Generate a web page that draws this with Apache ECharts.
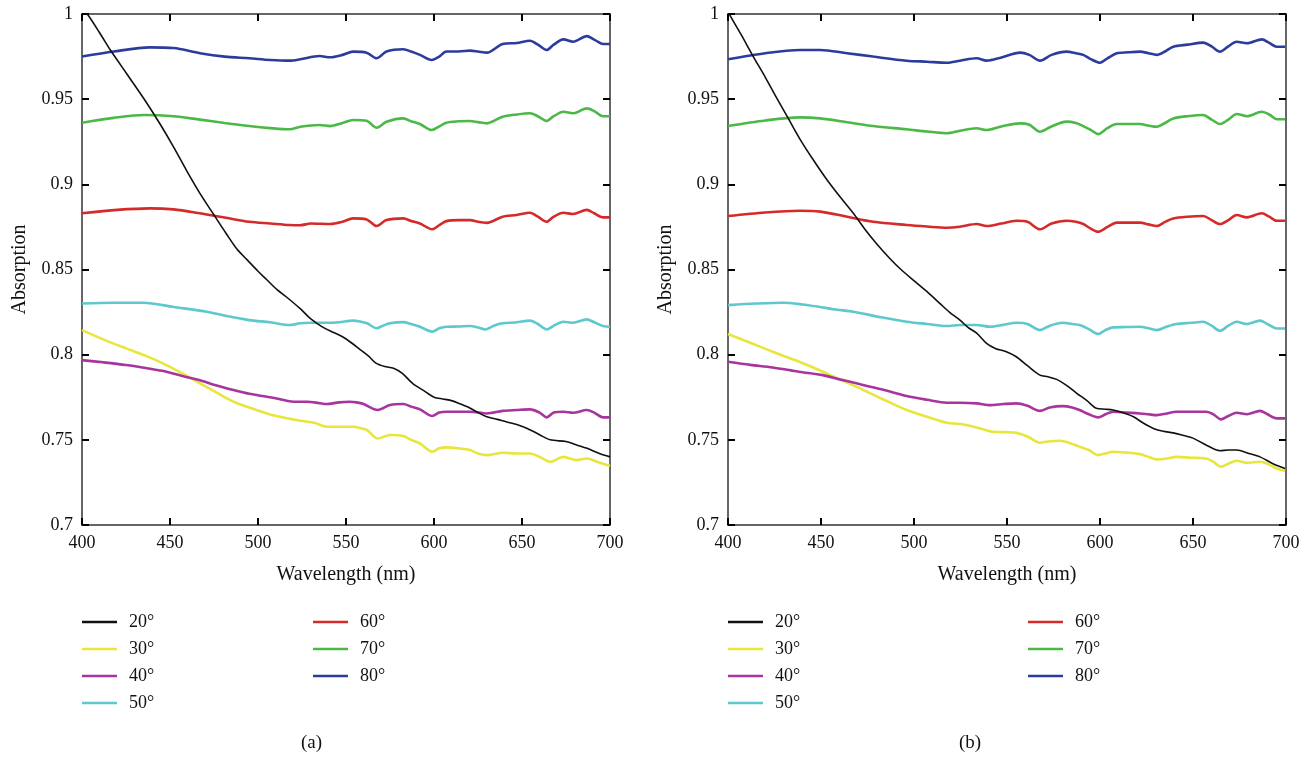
<!DOCTYPE html>
<html>
<head>
    <meta charset="utf-8">
    <title>Absorption vs wavelength</title>
    <script src="https://cdn.jsdelivr.net/npm/echarts@6/dist/echarts.min.js"></script>
</head>
<body style="margin:0;background:#fff;">
    <div id="main" style="width: 1316px;height:757px;"></div>
    <script type="text/javascript">
        // angles shown in the legend
        var angleNames = ['20°', '30°', '40°', '50°', '60°', '70°', '80°'];
        var angleColors = ['#111111', '#e8e63c', '#a8349e', '#5ec8cc', '#d42a2a', '#4cb848', '#2c3c9c'];
        var xTicks = [400, 450, 500, 550, 600, 650, 700];
        var yTicks = [0.7, 0.75, 0.8, 0.85, 0.9, 0.95, 1];

        // (a) wavelength (nm), absorption
        var a20 = [[400,1.003],[403,1.0],[410,0.989],[416,0.979],[420,0.973],[426,0.964],[435,0.9505],[444,0.936],[452,0.922],[460,0.907],[467,0.8947],[475,0.882],[482,0.871],[488,0.862],[494,0.8555],[500,0.849],[505,0.844],[511,0.838],[516,0.834],[524,0.827],[530,0.821],[537,0.816],[543,0.813],[548,0.8105],[553,0.807],[558,0.803],[563,0.799],[567,0.795],[572,0.793],[577,0.792],[582,0.789],[588,0.783],[594,0.779],[600,0.775],[605,0.774],[609,0.7733],[614,0.7715],[619,0.7694],[625,0.766],[630,0.7635],[636,0.762],[641,0.7606],[647,0.759],[653,0.7567],[660,0.753],[666,0.750],[675,0.749],[681,0.747],[687,0.745],[694,0.742],[700,0.740]];
        var a30 = [[400,0.8144],[412,0.809],[425,0.8037],[437,0.799],[448,0.7939],[457,0.789],[467,0.7832],[476,0.778],[486,0.7724],[495,0.769],[505,0.7655],[515,0.763],[524,0.7612],[532,0.760],[539,0.7577],[547,0.7577],[554,0.7577],[558,0.757],[562,0.7557],[568,0.7508],[575,0.7528],[582.6,0.7522],[587,0.750],[592,0.7479],[599,0.743],[603,0.745],[607,0.7456],[614,0.745],[620.5,0.744],[625,0.742],[630,0.741],[639,0.7424],[647,0.742],[654.5,0.742],[660,0.740],[666,0.7371],[673.5,0.740],[681,0.7381],[686.8,0.739],[693,0.737],[700,0.7346]];
        var a40 = [[400,0.7968],[412,0.7955],[425,0.7939],[437,0.792],[448,0.790],[457,0.7875],[467,0.785],[476,0.782],[486,0.7792],[495,0.777],[505,0.7753],[512,0.774],[520,0.7724],[528,0.7724],[535,0.7715],[539,0.771],[546,0.772],[552,0.7724],[556,0.772],[560,0.771],[568,0.7675],[575,0.7704],[582.6,0.771],[587,0.7695],[592,0.7679],[599,0.764],[603,0.766],[607,0.7665],[614,0.7665],[620.5,0.7665],[630,0.7655],[639,0.767],[647,0.7675],[654.5,0.7679],[660,0.766],[664,0.7632],[668,0.766],[673.5,0.7665],[679,0.7659],[686.8,0.7675],[691,0.766],[696,0.7632],[700,0.7632]];
        var a50 = [[400,0.830],[418,0.8305],[435,0.8305],[452,0.828],[471,0.8252],[483,0.8225],[495,0.8203],[507,0.819],[518,0.8174],[524,0.8184],[530,0.8187],[539,0.8187],[546,0.819],[554,0.820],[558,0.8195],[562,0.8184],[567.4,0.8155],[571,0.817],[575,0.8184],[582.6,0.8191],[587,0.818],[592,0.8164],[599,0.8135],[603,0.8155],[607,0.8164],[614,0.8165],[620.5,0.8168],[625,0.816],[629,0.8148],[634,0.817],[639,0.8184],[647,0.819],[654.5,0.820],[659,0.818],[664,0.8148],[668,0.817],[673.5,0.8193],[679,0.8187],[686.8,0.8207],[691,0.819],[696,0.8168],[700,0.8164]];
        var a60 = [[400,0.883],[420,0.885],[438.6,0.8859],[452,0.8853],[467,0.883],[481,0.8805],[495,0.878],[507,0.877],[518,0.8761],[524,0.876],[530,0.877],[541,0.8767],[548,0.878],[554,0.880],[561.7,0.8794],[567.4,0.8755],[573,0.879],[582.6,0.880],[587,0.8785],[592,0.877],[599,0.8736],[603,0.876],[607,0.8784],[614,0.879],[620.5,0.879],[625,0.878],[630,0.8774],[639,0.881],[647,0.882],[654.5,0.8833],[659,0.881],[664,0.878],[668,0.881],[673.5,0.8833],[679,0.8826],[686.8,0.885],[691,0.883],[696,0.8806],[700,0.8806]];
        var a70 = [[400,0.9362],[418,0.939],[435,0.9407],[452,0.940],[467,0.938],[481,0.936],[495,0.9342],[507,0.933],[518,0.9323],[524,0.9338],[535,0.9348],[541,0.9342],[548,0.936],[554,0.9378],[561.7,0.9373],[567.4,0.9332],[573,0.9367],[582.6,0.9387],[587,0.937],[592,0.9354],[598.7,0.9319],[603,0.934],[607,0.9362],[614,0.937],[620.5,0.9372],[625,0.9365],[630,0.9358],[639,0.9397],[647,0.941],[654.5,0.9417],[659,0.940],[664,0.9372],[668,0.940],[673.5,0.9426],[679,0.9417],[686.8,0.9446],[691,0.943],[696,0.940],[700,0.940]];
        var a80 = [[400,0.975],[418,0.978],[438.6,0.9804],[452,0.980],[467,0.977],[481,0.975],[495,0.974],[507,0.973],[518,0.9726],[524,0.9734],[535,0.9753],[541,0.9746],[548,0.976],[554,0.9779],[561.7,0.9773],[567.4,0.974],[573,0.978],[582.6,0.9793],[587,0.978],[592,0.976],[598.7,0.973],[603,0.975],[607,0.978],[614,0.978],[620.5,0.9785],[625,0.978],[630,0.9773],[639,0.9824],[647,0.983],[654.5,0.9843],[659,0.982],[664,0.9789],[668,0.982],[673.5,0.9851],[679,0.9837],[686.8,0.987],[691,0.985],[696,0.9824],[700,0.9824]];

        // (b) wavelength (nm), absorption
        var b20 = [[400,1.002],[401,0.9994],[407,0.988],[413.6,0.975],[420,0.963],[426,0.951],[432.4,0.9387],[439,0.926],[445.9,0.9143],[453,0.903],[460,0.893],[467.4,0.883],[474,0.873],[480,0.865],[487,0.8565],[493,0.850],[499.6,0.8438],[507,0.837],[514,0.830],[519,0.825],[524.7,0.8203],[529,0.816],[533.7,0.8126],[539,0.8066],[544,0.8035],[549,0.802],[555,0.7988],[561,0.7935],[567.7,0.788],[572,0.787],[576.7,0.7855],[582,0.782],[587.5,0.7773],[593,0.773],[598,0.7685],[603,0.768],[607,0.7675],[612,0.766],[618,0.7635],[623,0.760],[628.7,0.7567],[634,0.755],[639.4,0.7541],[645,0.7525],[650,0.751],[657,0.747],[664.5,0.7436],[669,0.744],[673.5,0.744],[680,0.742],[686,0.740],[693,0.736],[699.5,0.7332]];
        var b30 = [[400,0.8121],[412,0.807],[424,0.8017],[438,0.796],[451,0.79],[460,0.7855],[469,0.7812],[483,0.774],[496,0.7675],[507,0.7635],[517.6,0.760],[524.7,0.7593],[533.7,0.7573],[542.6,0.7547],[549,0.7545],[555,0.7541],[561,0.752],[567.7,0.7483],[572,0.749],[578.5,0.7495],[584,0.748],[589,0.746],[594,0.744],[599,0.741],[603,0.742],[607,0.743],[614,0.7425],[621.5,0.7416],[626,0.740],[630.5,0.7385],[636,0.739],[641,0.740],[649,0.7395],[657,0.739],[661,0.737],[665,0.7342],[669,0.736],[673.5,0.7377],[679,0.7365],[686,0.7371],[690,0.736],[695,0.7332],[699.5,0.7318]];
        var b40 = [[400,0.7958],[412,0.794],[424,0.7925],[438,0.790],[451,0.788],[460,0.7855],[469,0.7832],[483,0.7795],[496,0.7757],[507,0.7735],[517.6,0.7718],[524.7,0.7718],[533.7,0.7714],[540.9,0.7704],[548,0.771],[555,0.7714],[561,0.770],[567.7,0.767],[573,0.769],[580,0.7698],[585,0.769],[589,0.7675],[594,0.765],[599,0.7632],[603,0.765],[607,0.7665],[614,0.766],[621.5,0.7655],[626,0.765],[630.5,0.7645],[636,0.7655],[641,0.7665],[649,0.7665],[657,0.7665],[661,0.765],[665,0.762],[669,0.764],[673.5,0.7659],[679,0.765],[686,0.767],[690,0.765],[695,0.7626],[699.5,0.7626]];
        var b50 = [[400,0.8291],[415,0.830],[429.7,0.8305],[440,0.8295],[449.5,0.828],[458,0.8265],[467.4,0.8252],[482,0.822],[496,0.8193],[507,0.818],[517.6,0.8168],[524.7,0.8174],[533.7,0.8174],[540.9,0.8164],[548,0.8175],[555,0.8187],[561,0.818],[567.7,0.8144],[573,0.817],[580,0.8187],[585,0.818],[589,0.8174],[594,0.815],[599,0.8121],[603,0.8145],[607,0.816],[614,0.8162],[621.5,0.8164],[626,0.8155],[630.5,0.8144],[636,0.8165],[641,0.818],[649,0.8187],[655.5,0.8193],[660,0.817],[664.5,0.814],[669,0.817],[673.5,0.8193],[679,0.818],[686,0.820],[690,0.818],[695,0.8154],[699.5,0.8154]];
        var b60 = [[400,0.8814],[420,0.8835],[438.7,0.8845],[449.5,0.884],[464,0.881],[478,0.878],[496,0.8761],[507,0.8752],[517.6,0.8745],[524.7,0.8751],[533.7,0.8767],[539,0.8755],[547,0.877],[555,0.8786],[561,0.878],[567.7,0.8736],[574,0.877],[582,0.8786],[587,0.878],[591,0.8767],[595,0.874],[599,0.8722],[604,0.875],[609,0.8775],[615,0.8775],[621.5,0.8775],[626,0.8765],[630.5,0.8755],[635,0.878],[639.4,0.880],[647,0.881],[655.5,0.8814],[660,0.879],[664.5,0.8767],[669,0.879],[673.5,0.882],[679,0.8806],[687,0.883],[691,0.881],[695,0.8786],[699.5,0.8786]];
        var b70 = [[400,0.9342],[420,0.9375],[438.7,0.9393],[449.5,0.9387],[464,0.9365],[478,0.9342],[496,0.9323],[507,0.931],[517.6,0.930],[524.7,0.9315],[533.7,0.9329],[539,0.9319],[547,0.934],[557,0.9358],[562,0.935],[567.7,0.9309],[574,0.934],[582,0.9368],[587,0.936],[591,0.9342],[595,0.932],[599,0.9295],[604,0.933],[609,0.9354],[615,0.9354],[621.5,0.9354],[626,0.9345],[630.5,0.9338],[635,0.936],[639.4,0.9387],[647,0.940],[655.5,0.9407],[660,0.938],[664.5,0.9354],[669,0.938],[673.5,0.9413],[679,0.940],[687,0.9426],[691,0.941],[695,0.9382],[699.5,0.9382]];
        var b80 = [[400,0.9734],[420,0.977],[438.7,0.9789],[449.5,0.9789],[464,0.977],[478,0.975],[496,0.9726],[507,0.972],[517.6,0.9714],[524.7,0.9726],[533.7,0.974],[539,0.9726],[547,0.9745],[557,0.9773],[562,0.976],[567.7,0.9726],[574,0.976],[582,0.9779],[587,0.977],[591,0.976],[595,0.9735],[600,0.9714],[604,0.974],[609,0.9769],[615,0.9775],[621.5,0.9779],[626,0.977],[630.5,0.976],[635,0.978],[639.4,0.9808],[647,0.982],[655.5,0.9832],[660,0.981],[664.5,0.9779],[669,0.981],[673.5,0.9837],[679,0.9828],[687,0.9851],[691,0.983],[695,0.9808],[699.5,0.9808]];

        var panelA = [a20, a30, a40, a50, a60, a70, a80];
        var panelB = [b20, b30, b40, b50, b60, b70, b80];

        var serif = 'Liberation Serif';
        var axisColor = '#333';

        function xAxisFor(gridIndex, top) {
            return {
                type: 'value', gridIndex: gridIndex, position: top ? 'top' : 'bottom',
                min: xTicks[0], max: xTicks[xTicks.length - 1], interval: 50,
                name: top ? '' : 'Wavelength (nm)', nameLocation: 'middle', nameGap: 40,
                nameTextStyle: {fontFamily: serif, fontSize: 20, color: '#111'},
                axisLine: {show: true, lineStyle: {color: axisColor, width: 1.5}},
                axisTick: {show: true, inside: true, length: 7, lineStyle: {color: '#000', width: 2}},
                axisLabel: {show: !top, fontFamily: serif, fontSize: 18, color: '#111', margin: 9},
                splitLine: {show: false}
            };
        }
        function yAxisFor(gridIndex, right) {
            return {
                type: 'value', gridIndex: gridIndex, position: right ? 'right' : 'left',
                min: yTicks[0], max: yTicks[yTicks.length - 1], interval: 0.05,
                name: right ? '' : 'Absorption', nameLocation: 'middle', nameGap: 52,
                nameTextStyle: {fontFamily: serif, fontSize: 20, color: '#111'},
                axisLine: {show: true, lineStyle: {color: axisColor, width: 1.5}},
                axisTick: {show: true, inside: true, length: 7, lineStyle: {color: '#000', width: 2}},
                axisLabel: {show: !right, fontFamily: serif, fontSize: 18, color: '#111', margin: 9},
                splitLine: {show: false}
            };
        }

        var series = [];
        function addPanel(data, axisIndex) {
            for (var i = 0; i < data.length; i++) {
                series.push({
                    name: angleNames[i],
                    type: 'line',
                    xAxisIndex: axisIndex,
                    yAxisIndex: axisIndex,
                    data: data[i],
                    showSymbol: false,
                    smooth: 0.3,
                    clip: true,
                    lineStyle: {color: angleColors[i], width: i === 0 ? 1.6 : 2.6},
                    itemStyle: {color: angleColors[i]},
                    z: i === 0 ? 3 : 2
                });
            }
        }
        addPanel(panelA, 0);
        addPanel(panelB, 2);

        function legendFor(left, names) {
            return {
                left: left, top: 613, orient: 'vertical', padding: 0,
                data: names, icon: 'rect', itemWidth: 35, itemHeight: 2.5, itemGap: 9,
                selectedMode: false,
                textStyle: {fontFamily: serif, fontSize: 18, color: '#111', padding: [0, 0, 0, 7], lineHeight: 18}
            };
        }

        var chart = echarts.init(document.getElementById('main'));
        var option = {
            animation: false,
            backgroundColor: '#fff',
            grid: [
                {left: 82, top: 14, width: 528, height: 511},
                {left: 728, top: 14, width: 558, height: 511}
            ],
            xAxis: [xAxisFor(0, false), xAxisFor(0, true), xAxisFor(1, false), xAxisFor(1, true)],
            yAxis: [yAxisFor(0, false), yAxisFor(0, true), yAxisFor(1, false), yAxisFor(1, true)],
            legend: [
                legendFor(82, angleNames.slice(0, 4)),
                legendFor(313, angleNames.slice(4)),
                legendFor(728, angleNames.slice(0, 4)),
                legendFor(1028, angleNames.slice(4))
            ],
            graphic: [
                {type: 'text', left: 301, top: 734, style: {text: '(a)', fontFamily: serif, fontSize: 19, fill: '#111'}},
                {type: 'text', left: 959, top: 734, style: {text: '(b)', fontFamily: serif, fontSize: 19, fill: '#111'}}
            ],
            series: series
        };
        chart.setOption(option);
    </script>
</body>
</html>
